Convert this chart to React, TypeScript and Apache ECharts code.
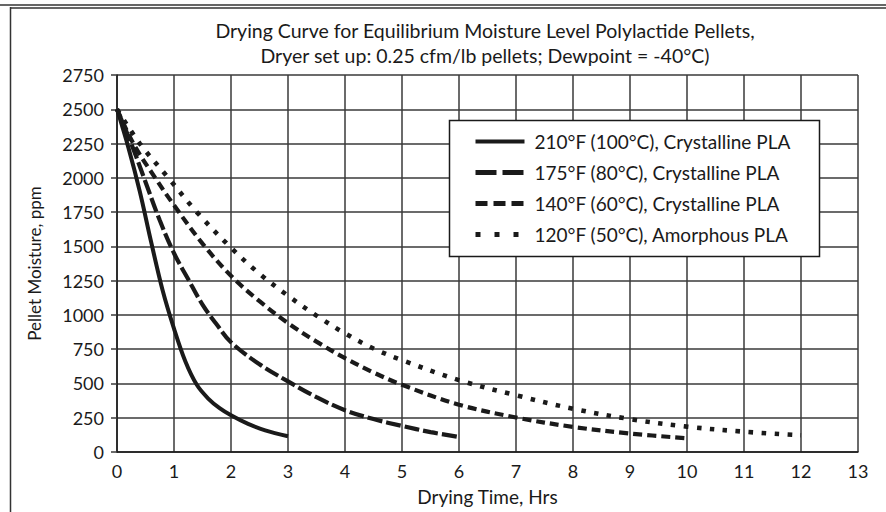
import React, { useEffect, useRef } from "react";
import * as echarts from "echarts";

const titleText =
  "Drying Curve for Equilibrium Moisture Level Polylactide Pellets,\nDryer set up: 0.25 cfm/lb pellets; Dewpoint = -40°C)";
const xAxisName = "Drying Time, Hrs";
const yAxisName = "Pellet Moisture, ppm";

const seriesNames = [
  "210°F (100°C), Crystalline PLA",
  "175°F (80°C), Crystalline PLA",
  "140°F (60°C), Crystalline PLA",
  "120°F (50°C), Amorphous PLA",
];

const hours210 = [0, 0.2, 0.4, 0.6, 0.8, 1.0, 1.2, 1.4, 1.6, 1.8, 2.0, 2.3, 2.6, 3.0];
const ppm210 = [2500, 2220, 1900, 1530, 1180, 900, 660, 490, 390, 320, 268, 205, 158, 115];

const hours175 = [0, 0.25, 0.5, 0.75, 1.0, 1.25, 1.5, 1.75, 2.0, 2.5, 3.0, 3.5, 4.0, 4.5, 5.0, 5.5, 6.0];
const ppm175 = [2500, 2250, 1970, 1690, 1450, 1260, 1075, 930, 800, 640, 515, 400, 305, 240, 190, 145, 110];

const hours140 = [0, 0.3, 0.67, 1, 1.5, 2, 2.5, 3, 3.5, 4, 4.5, 5, 6, 7, 8, 9, 10];
const ppm140 = [2500, 2240, 2000, 1800, 1520, 1285, 1100, 940, 805, 685, 580, 490, 345, 252, 183, 135, 100];

const hours120 = [0, 0.4, 0.9, 1.4, 2, 2.5, 3, 3.5, 4, 4.5, 5, 6, 7, 8, 9, 10, 11, 12];
const ppm120 = [2500, 2250, 2000, 1750, 1490, 1300, 1140, 995, 865, 755, 670, 524, 414, 316, 240, 185, 148, 122];

const xTicks = [0, 1, 2, 3, 4, 5, 6, 7, 8, 9, 10, 11, 12, 13];
const yTicks = [0, 250, 500, 750, 1000, 1250, 1500, 1750, 2000, 2250, 2500, 2750];

const FONT = "Lato";
const INK = "#1a1a1a";
const GRID = "#3a3a3a";

const pairs = (xs: number[], ys: number[]) => xs.map((x, i) => [x, ys[i]]);

const seriesData = [
  pairs(hours210, ppm210),
  pairs(hours175, ppm175),
  pairs(hours140, ppm140),
  pairs(hours120, ppm120),
];

const seriesDash: (number[] | "solid")[] = ["solid", [15, 4], [9, 5], [4.5, 8.5]];
const legendDash: (number[] | "solid")[] = ["solid", [21, 6], [12, 6], [5, 14]];
const seriesWidth = [4, 4.2, 4.2, 4.6];

export default function App() {
  const ref = useRef<HTMLDivElement>(null);

  useEffect(() => {
    if (!ref.current) return;
    const chart = echarts.init(ref.current, null, { renderer: "svg" });
    const option: any = {
      animation: false,
      backgroundColor: "#ffffff",
      title: {
        text: titleText,
        left: 485,
        top: 18,
        padding: 0,
        textAlign: "center",
        textStyle: {
          fontFamily: FONT,
          fontSize: 19.5,
          fontWeight: "normal",
          color: INK,
          lineHeight: 25,
        },
      },
      grid: { left: 117, right: 28, top: 75, bottom: 60, containLabel: false },
      xAxis: {
        type: "value",
        min: xTicks[0],
        max: xTicks[xTicks.length - 1],
        interval: 1,
        name: xAxisName,
        nameLocation: "middle",
        nameGap: 35,
        nameTextStyle: { fontFamily: FONT, fontSize: 19, color: INK },
        axisLine: { show: true, lineStyle: { color: INK, width: 1.5 } },
        axisTick: { show: false },
        axisLabel: { fontFamily: FONT, fontSize: 18, color: INK, margin: 10 },
        splitLine: { show: true, lineStyle: { color: GRID, width: 1.5 } },
      },
      yAxis: {
        type: "value",
        min: yTicks[0],
        max: yTicks[yTicks.length - 1],
        interval: 250,
        name: yAxisName,
        nameLocation: "middle",
        nameGap: 74,
        nameTextStyle: { fontFamily: FONT, fontSize: 17, color: INK },
        axisLine: { show: true, lineStyle: { color: INK, width: 1.5 } },
        axisTick: { show: true, length: 6, lineStyle: { color: GRID, width: 1.5 } },
        axisLabel: {
          fontFamily: FONT,
          fontSize: 18,
          color: INK,
          margin: 13,
          formatter: (v: number) => String(v),
        },
        splitLine: { show: true, lineStyle: { color: GRID, width: 1.5 } },
      },
      legend: {
        orient: "vertical",
        left: 473,
        top: 131,
        padding: 0,
        itemGap: 10,
        itemWidth: 49,
        itemHeight: 14,
        z: 6,
        itemStyle: { color: "transparent", borderWidth: 0, opacity: 0 },
        textStyle: {
          fontFamily: FONT,
          fontSize: 19,
          color: INK,
          lineHeight: 21,
          padding: [0, 0, 0, 5],
        },
        data: seriesNames.map((name, i) => ({
          name,
          lineStyle: {
            color: INK,
            width: i === 0 ? 4 : 5,
            type: legendDash[i],
            cap: "butt",
            opacity: 1,
          },
        })),
      },
      graphic: [
        {
          type: "line",
          shape: { x1: 0, y1: 5, x2: 886, y2: 5 },
          style: { stroke: "#333", lineWidth: 1.5 },
          silent: true,
        },
        {
          type: "line",
          shape: { x1: 10, y1: 8, x2: 886, y2: 8 },
          style: { stroke: "#333", lineWidth: 1.5 },
          silent: true,
        },
        {
          type: "line",
          shape: { x1: 10.5, y1: 7, x2: 10.5, y2: 512 },
          style: { stroke: "#333", lineWidth: 1.5 },
          silent: true,
        },
        {
          type: "rect",
          z: 5,
          shape: { x: 449.5, y: 120.5, width: 370, height: 136 },
          style: { fill: "#ffffff", stroke: INK, lineWidth: 1.5 },
          silent: true,
        },
      ],
      series: seriesNames.map((name, i) => ({
        name,
        type: "line",
        data: seriesData[i],
        symbol: "none",
        showSymbol: false,
        smooth: 0.35,
        z: 3,
        lineStyle: {
          color: INK,
          width: seriesWidth[i],
          type: seriesDash[i],
          cap: "butt",
        },
        itemStyle: { color: INK },
      })),
    };
    chart.setOption(option);
    return () => chart.dispose();
  }, []);

  return (
    <div
      ref={ref}
      style={{ position: "fixed", left: 0, top: 0, width: 886, height: 512 }}
    />
  );
}
